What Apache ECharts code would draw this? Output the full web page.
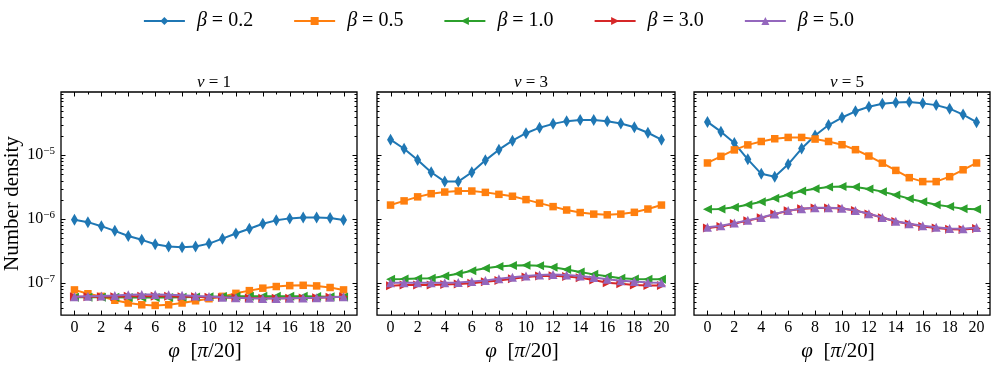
<!DOCTYPE html>
<html>
<head>
<meta charset="utf-8">
<script src="https://cdn.jsdelivr.net/npm/echarts@6/dist/echarts.min.js"></script>
<style>html,body{margin:0;padding:0;background:#fff}#c{width:997px;height:367px}</style>
</head>
<body>
<div id="c"></div>
<script>
// ---- data ----
const phi = [0,1,2,3,4,5,6,7,8,9,10,11,12,13,14,15,16,17,18,19,20];
const xTicksMajor = [0,2,4,6,8,10,12,14,16,18,20];
const panelTitles = ['1','3','5'];
const betaLabels = ['0.2','0.5','1.0','3.0','5.0'];

const n1_b02 = [9.7e-7,8.9e-7,7.7e-7,6.5e-7,5.4e-7,4.7e-7,4.0e-7,3.7e-7,3.6e-7,3.7e-7,4.1e-7,4.9e-7,5.9e-7,7.0e-7,8.4e-7,9.5e-7,1.02e-6,1.05e-6,1.05e-6,1.03e-6,9.6e-7];
const n1_b05 = [7.7e-8,6.7e-8,6.1e-8,5.3e-8,4.8e-8,4.5e-8,4.4e-8,4.5e-8,4.8e-8,5.2e-8,5.6e-8,6.1e-8,6.8e-8,7.5e-8,8.2e-8,8.7e-8,9.0e-8,9.1e-8,8.9e-8,8.4e-8,7.7e-8];
const n1_b10 = [5.9e-8,5.9e-8,5.9e-8,5.9e-8,5.85e-8,5.85e-8,5.85e-8,5.85e-8,5.9e-8,5.95e-8,6.0e-8,6.05e-8,6.1e-8,6.1e-8,6.1e-8,6.1e-8,6.1e-8,6.1e-8,6.05e-8,6.0e-8,5.95e-8];
const n1_b30 = [6.0e-8,6.0e-8,6.0e-8,6.0e-8,6.1e-8,6.1e-8,6.1e-8,6.1e-8,6.0e-8,6.0e-8,5.9e-8,5.85e-8,5.8e-8,5.75e-8,5.7e-8,5.7e-8,5.7e-8,5.75e-8,5.8e-8,5.9e-8,6.0e-8];
const n1_b50 = [6.0e-8,6.1e-8,6.2e-8,6.3e-8,6.45e-8,6.5e-8,6.5e-8,6.45e-8,6.35e-8,6.2e-8,6.05e-8,5.9e-8,5.8e-8,5.7e-8,5.65e-8,5.65e-8,5.7e-8,5.75e-8,5.8e-8,5.9e-8,6.0e-8];

const n3_b02 = [1.75e-5,1.26e-5,8.4e-6,5.4e-6,3.85e-6,3.85e-6,5.4e-6,8.3e-6,1.22e-5,1.69e-5,2.21e-5,2.7e-5,3.1e-5,3.42e-5,3.55e-5,3.55e-5,3.42e-5,3.15e-5,2.74e-5,2.25e-5,1.75e-5];
const n3_b05 = [1.65e-6,1.92e-6,2.22e-6,2.49e-6,2.64e-6,2.74e-6,2.74e-6,2.61e-6,2.43e-6,2.27e-6,2.01e-6,1.77e-6,1.56e-6,1.38e-6,1.26e-6,1.19e-6,1.16e-6,1.19e-6,1.27e-6,1.43e-6,1.65e-6];
const n3_b10 = [1.13e-7,1.14e-7,1.16e-7,1.17e-7,1.27e-7,1.38e-7,1.54e-7,1.69e-7,1.79e-7,1.86e-7,1.88e-7,1.84e-7,1.75e-7,1.61e-7,1.47e-7,1.35e-7,1.26e-7,1.17e-7,1.14e-7,1.13e-7,1.13e-7];
const n3_b30 = [8.95e-8,9.2e-8,9.2e-8,9.2e-8,9.4e-8,9.5e-8,9.8e-8,1.03e-7,1.08e-7,1.15e-7,1.23e-7,1.27e-7,1.29e-7,1.25e-7,1.19e-7,1.1e-7,1.0e-7,9.6e-8,9.2e-8,9.0e-8,9.0e-8];
const n3_b50 = [1.0e-7,1.0e-7,1.0e-7,1.0e-7,1.0e-7,1.01e-7,1.04e-7,1.08e-7,1.15e-7,1.22e-7,1.27e-7,1.32e-7,1.34e-7,1.32e-7,1.27e-7,1.21e-7,1.13e-7,1.07e-7,1.04e-7,1.01e-7,1.0e-7];

const n5_b02 = [3.33e-5,2.34e-5,1.55e-5,8.6e-6,5.1e-6,4.6e-6,7.2e-6,1.27e-5,2.03e-5,2.97e-5,3.9e-5,4.88e-5,5.75e-5,6.4e-5,6.7e-5,6.8e-5,6.5e-5,6.1e-5,5.36e-5,4.33e-5,3.3e-5];
const n5_b05 = [7.55e-6,9.6e-6,1.21e-5,1.45e-5,1.64e-5,1.81e-5,1.9e-5,1.9e-5,1.79e-5,1.64e-5,1.46e-5,1.22e-5,9.7e-6,7.5e-6,5.77e-6,4.44e-6,3.85e-6,3.85e-6,4.6e-6,5.9e-6,7.55e-6];
const n5_b10 = [1.42e-6,1.43e-6,1.52e-6,1.67e-6,1.86e-6,2.11e-6,2.4e-6,2.74e-6,2.98e-6,3.16e-6,3.23e-6,3.16e-6,2.94e-6,2.68e-6,2.38e-6,2.08e-6,1.86e-6,1.67e-6,1.56e-6,1.45e-6,1.42e-6];
const n5_b30 = [7.2e-7,7.6e-7,8.5e-7,9.4e-7,1.04e-6,1.19e-6,1.34e-6,1.44e-6,1.49e-6,1.49e-6,1.46e-6,1.35e-6,1.2e-6,1.04e-6,9.1e-7,8.3e-7,7.6e-7,7.2e-7,6.9e-7,6.8e-7,7.1e-7];
const n5_b50 = [7.4e-7,7.8e-7,8.6e-7,9.5e-7,1.05e-6,1.2e-6,1.35e-6,1.45e-6,1.5e-6,1.5e-6,1.47e-6,1.36e-6,1.21e-6,1.05e-6,9.2e-7,8.4e-7,7.8e-7,7.4e-7,7.1e-7,7.0e-7,7.35e-7];

const panels = [
  [n1_b02, n1_b05, n1_b10, n1_b30, n1_b50],
  [n3_b02, n3_b05, n3_b10, n3_b30, n3_b50],
  [n5_b02, n5_b05, n5_b10, n5_b30, n5_b50]
];

// ---- styling ----
const FONT = 'Liberation Serif';
const colors = ['#1f77b4','#ff7f0e','#2ca02c','#d62728','#9467bd'];
const symbols = [
  {symbol:'diamond', size:[7,12], rotate:0},
  {symbol:'rect', size:7.5, rotate:0},
  {symbol:'triangle', size:9, rotate:90},
  {symbol:'triangle', size:9, rotate:-90},
  {symbol:'triangle', size:9, rotate:0}
];
const grids = [
  {left:61, top:92, width:296, height:228},
  {left:377, top:92, width:298, height:228},
  {left:694, top:92, width:296, height:228}
];
const Y_MIN = 3.1e-8, Y_MAX = 9.8e-5;
const X_MIN = -1, X_MAX = 21;

const seriesName = i => 'β = ' + betaLabels[i];

// tick decoration values (axis ticks, not data)
const tickItems = [];
for (let x = 0; x <= 20; x++) tickItems.push([x, 1e-6, 0, x % 2 === 0 ? 1 : 0]);
for (let e = -8; e <= -5; e++) {
  for (let m = 1; m <= 9; m++) {
    const v = m * Math.pow(10, e);
    if (v > Y_MIN && v < Y_MAX) tickItems.push([0, v, 1, m === 1 ? 1 : 0]);
  }
}

function tickRender(params, api) {
  const cs = params.coordSys;
  const kind = api.value(2), major = api.value(3);
  const len = major ? 4.5 : 2.5;
  const st = {stroke:'#000', lineWidth:1};
  if (kind === 0) {
    const px = Math.round(api.coord([api.value(0), 1e-6])[0]) + 0.5;
    return {type:'group', children:[
      {type:'line', shape:{x1:px, y1:cs.y+cs.height, x2:px, y2:cs.y+cs.height-len}, style:st},
      {type:'line', shape:{x1:px, y1:cs.y, x2:px, y2:cs.y+len}, style:st}
    ]};
  } else {
    const py = Math.round(api.coord([0, api.value(1)])[1]) + 0.5;
    return {type:'group', children:[
      {type:'line', shape:{x1:cs.x, y1:py, x2:cs.x+len, y2:py}, style:st},
      {type:'line', shape:{x1:cs.x+cs.width, y1:py, x2:cs.x+cs.width-len, y2:py}, style:st}
    ]};
  }
}

const option = {
  animation: false,
  backgroundColor: '#fff',
  textStyle: {fontFamily: FONT, color:'#000'},
  legend: {
    data: betaLabels.map((b,i)=>seriesName(i)),
    left: 'center', top: 6,
    itemWidth: 41, itemHeight: 10, itemGap: 40,
    formatter: name => '{i|β} = ' + name.split('= ')[1],
    textStyle: {fontFamily: FONT, fontSize: 20, color:'#000', padding:[0,0,0,7],
      rich: {i: {fontFamily: FONT, fontStyle:'italic', fontSize: 20, color:'#000'}}}
  },
  title: grids.map((g,k)=>({
    text: '{i|ν} = ' + panelTitles[k],
    left: g.left + g.width/2, top: 69, textAlign: 'center',
    textStyle: {fontFamily: FONT, fontSize: 17, fontWeight:'normal', color:'#000',
      rich: {i:{fontFamily: FONT, fontStyle:'italic', fontSize:17, color:'#000'}}}
  })),
  grid: grids.map(g => Object.assign({show:true, borderColor:'#000', borderWidth:1.3, backgroundColor:'transparent'}, g)),
  xAxis: grids.map((g,k)=>({
    type:'value', gridIndex:k, min:X_MIN, max:X_MAX, splitNumber:11,
    axisLine:{show:false}, axisTick:{show:false}, splitLine:{show:false},
    axisLabel:{fontFamily:FONT, fontSize:16, color:'#000', margin:5,
      formatter: v => xTicksMajor.indexOf(v) >= 0 ? String(v) : ''},
    name: '{i|φ}  [{i|π}/20]', nameLocation:'middle', nameGap:20,
    nameTextStyle:{fontFamily:FONT, fontSize:21, color:'#000', padding:[0,8,0,0],
      rich:{i:{fontFamily:FONT, fontStyle:'italic', fontSize:21, color:'#000'}}}
  })),
  yAxis: grids.map((g,k)=>({
    type:'log', logBase:10, gridIndex:k, min:Y_MIN, max:Y_MAX,
    axisLine:{show:false}, axisTick:{show:false}, splitLine:{show:false},
    axisLabel:{show: k===0, fontFamily:FONT, fontSize:16, color:'#000', margin:6,
      formatter: v => {
        const e = Math.log10(v), r = Math.round(e);
        if (Math.abs(e - r) > 1e-6) return '';
        return '{b|10}{s|−' + Math.abs(r) + '}';
      },
      rich:{b:{fontFamily:FONT, fontSize:16, color:'#000'},
            s:{fontFamily:FONT, fontSize:11, color:'#000', verticalAlign:'bottom', padding:[0,0,8,0]}}},
    name: k===0 ? 'Number density' : '', nameLocation:'middle', nameGap:32,
    nameTextStyle:{fontFamily:FONT, fontSize:21, color:'#000'}
  })),
  series: []
};

panels.forEach((arrs, k) => {
  arrs.forEach((vals, i) => {
    option.series.push({
      type:'line', name: seriesName(i), xAxisIndex:k, yAxisIndex:k,
      data: phi.map((p,j)=>[p, vals[j]]),
      color: colors[i],
      lineStyle:{width:2, color:colors[i]},
      itemStyle:{color:colors[i]},
      symbol: symbols[i].symbol, symbolSize: symbols[i].size, symbolRotate: symbols[i].rotate,
      showSymbol:true, showAllSymbol:true, clip:true, silent:true, z: 2 + i
    });
  });
  option.series.push({
    type:'custom', name:'ticks'+k, xAxisIndex:k, yAxisIndex:k, silent:true,
    renderItem: tickRender, data: tickItems, z: 10, clip:false
  });
});

const chart = echarts.init(document.getElementById('c'), null, {renderer:'canvas'});
chart.setOption(option);
</script>
</body>
</html>
